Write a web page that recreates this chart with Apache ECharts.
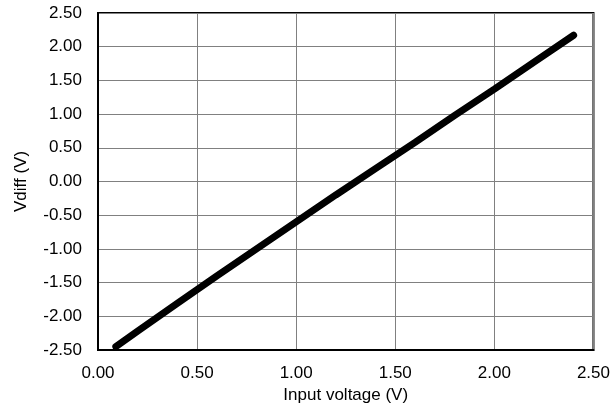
<!DOCTYPE html>
<html>
<head>
<meta charset="utf-8">
<script src="https://cdn.jsdelivr.net/npm/echarts@6/dist/echarts.min.js"></script>
<style>
  html, body { margin: 0; padding: 0; background: #fff; }
  #main { width: 613px; height: 414px; }
</style>
</head>
<body>
<div id="main"></div>
<script>
// input voltage (V) vs Vdiff (V)
const inputVoltage = [0.09, 0.2, 0.4, 0.6, 0.8, 1.0, 1.2, 1.4, 1.6, 1.8, 2.0, 2.2, 2.4];
const vdiff = [-2.45, -2.22, -1.81, -1.40, -1.00, -0.60, -0.20, 0.19, 0.58, 0.98, 1.37, 1.77, 2.17];

const points = inputVoltage.map((x, i) => [x, vdiff[i]]);

const chart = echarts.init(document.getElementById('main'));
const font = 'Liberation Sans, Arial, sans-serif';

chart.setOption({
  animation: false,
  grid: {
    left: 98, right: 18, top: 13, bottom: 64,
    show: true, borderColor: '#000', borderWidth: 2
  },
  xAxis: {
    type: 'value', min: 0, max: 2.5, interval: 0.5,
    name: 'Input voltage (V)', nameLocation: 'middle', nameGap: 37,
    nameTextStyle: { color: '#000', fontSize: 17, fontFamily: font },
    axisLine: { onZero: false, lineStyle: { color: '#000', width: 2 } },
    axisTick: { show: false },
    axisLabel: { color: '#000', fontSize: 17, fontFamily: font, margin: 15,
      formatter: v => v.toFixed(2) },
    splitLine: { lineStyle: { color: '#808080', width: 1 } }
  },
  yAxis: {
    type: 'value', min: -2.5, max: 2.5, interval: 0.5,
    name: 'Vdiff (V)', nameLocation: 'middle', nameGap: 68, nameRotate: 90,
    nameTextStyle: { color: '#000', fontSize: 17, fontFamily: font },
    axisLine: { onZero: false, lineStyle: { color: '#000', width: 2 } },
    axisTick: { show: false },
    axisLabel: { color: '#000', fontSize: 17, fontFamily: font, margin: 16,
      formatter: v => v.toFixed(2) },
    splitLine: { lineStyle: { color: '#808080', width: 1 } }
  },
  series: [{
    type: 'line',
    data: points,
    showSymbol: false,
    lineStyle: { color: '#000', width: 7, cap: 'round' }
  }]
});
</script>
</body>
</html>
